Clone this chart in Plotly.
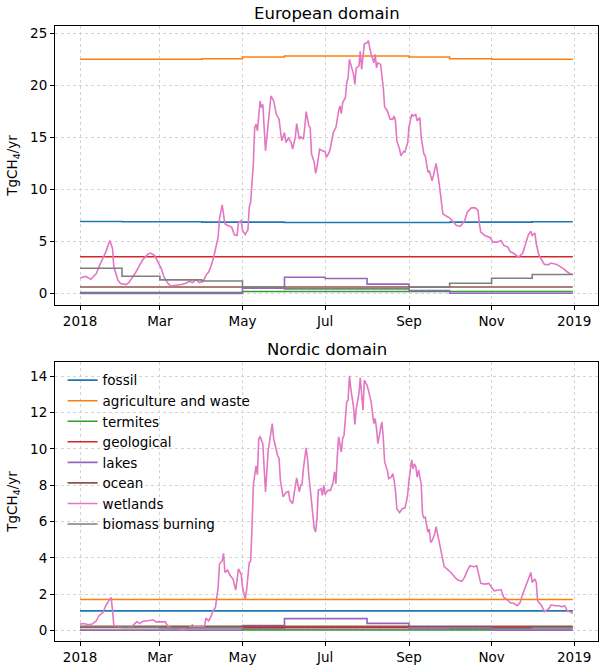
import pandas as pd
import plotly.graph_objects as go
from plotly.subplots import make_subplots

start = pd.Timestamp("2018-01-01")
months = pd.date_range(start, periods=12, freq="MS")
year_end = pd.Timestamp("2018-12-31")

names = ["fossil", "agriculture and waste", "termites", "geological",
         "lakes", "ocean", "wetlands", "biomass burning"]
colors = ["#1f77b4", "#ff7f0e", "#2ca02c", "#d62728",
          "#9467bd", "#8c564b", "#e377c2", "#7f7f7f"]

tick_dates = ["2018-01-01", "2018-03-01", "2018-05-01", "2018-07-01",
              "2018-09-01", "2018-11-01", "2019-01-01"]
tick_text = ["2018", "Mar", "May", "Jul", "Sep", "Nov", "2019"]

# monthly fluxes, European domain (TgCH4/yr)
eu_fossil = [6.92, 6.89, 6.89, 6.86, 6.86, 6.83, 6.83, 6.83, 6.83, 6.86, 6.86, 6.89]
eu_agri = [22.50, 22.50, 22.50, 22.56, 22.72, 22.82, 22.82, 22.82, 22.72, 22.56, 22.50, 22.50]
eu_termites = [0.10, 0.10, 0.10, 0.10, 0.20, 0.20, 0.20, 0.20, 0.20, 0.20, 0.20, 0.20]
eu_geo = [3.53, 3.53, 3.53, 3.53, 3.53, 3.53, 3.53, 3.53, 3.53, 3.53, 3.53, 3.53]
eu_lakes = [0.02, 0.02, 0.02, 0.02, 0.51, 1.57, 1.44, 0.90, 0.29, 0.03, 0.03, 0.03]
eu_ocean = [0.63, 0.63, 0.63, 0.63, 0.63, 0.63, 0.63, 0.63, 0.63, 0.63, 0.63, 0.63]
eu_biomass = [2.43, 1.66, 1.31, 1.21, 0.61, 0.45, 0.45, 0.45, 0.61, 0.99, 1.47, 1.83]

# wetlands, European domain: day of year, value
eu_wet_day = [0, 4, 8, 12, 15, 19, 22, 24, 25, 28, 30, 34, 36, 39, 41, 44, 46, 50, 52, 55,
              57, 60, 62, 65, 67, 71, 75, 78, 81, 83, 86, 88, 91, 93, 95, 97, 99, 102, 103, 105,
              107, 109, 112, 114, 116, 117, 119, 120, 122, 124, 125, 126, 128, 129, 130, 131, 133, 134, 135, 137,
              139, 141, 143, 145, 147, 148, 149, 151, 152, 154, 156, 157, 159, 160, 162, 163, 165, 166, 167, 169,
              170, 171, 173, 174, 175, 177, 179, 181, 182, 184, 185, 187, 188, 189, 191, 192, 193, 194, 196, 197,
              198, 199, 200, 202, 203, 204, 206, 207, 208, 209, 210, 212, 213, 214, 215, 217, 218, 219, 220, 222,
              223, 224, 225, 227, 229, 231, 232, 233, 234, 236, 237, 239, 240, 242, 243, 245, 246, 248, 249, 251,
              252, 254, 255, 257, 258, 260, 261, 263, 265, 267, 268, 271, 273, 276, 278, 281, 284, 286, 289, 292,
              294, 295, 296, 299, 303, 305, 308, 311, 313, 316, 318, 320, 322, 324, 327, 329, 331, 333, 334, 336,
              337, 339, 341, 343, 346, 348, 352, 354, 357, 360, 362, 364]
eu_wet_val = [1.50, 1.66, 1.37, 1.91, 2.87, 3.98, 5.10, 4.30, 2.55, 1.27, 0.96, 0.86, 1.05, 1.59, 2.00, 2.71, 3.19, 3.76, 3.89, 3.66,
              3.19, 2.39, 1.59, 0.96, 0.73, 0.80, 0.86, 0.99, 1.18, 1.05, 1.34, 1.05, 1.18, 1.75, 2.07, 2.71, 3.66, 5.42, 7.18, 8.52,
              6.70, 6.54, 6.38, 5.64, 5.58, 6.80, 7.00, 6.06, 5.67, 6.12, 8.29, 8.77, 12.44, 15.94, 16.27, 15.63, 18.50, 17.86, 18.18, 13.71,
              16.27, 18.98, 18.50, 17.22, 16.75, 15.63, 14.67, 15.46, 14.51, 14.93, 14.51, 13.88, 14.99, 16.33, 14.83, 15.05, 14.83, 15.94, 17.47, 16.10,
              15.94, 13.40, 12.60, 11.54, 12.11, 13.88, 13.71, 13.65, 13.07, 13.55, 14.03, 15.46, 15.69, 15.94, 17.54, 18.02, 17.28, 18.34, 18.81, 20.25,
              20.73, 22.49, 22.01, 21.05, 20.10, 21.68, 21.85, 23.28, 21.53, 22.64, 23.98, 24.08, 24.30, 23.60, 22.97, 22.16, 22.97, 21.68, 22.16, 22.01,
              21.05, 19.77, 17.92, 17.54, 16.75, 16.75, 17.06, 16.58, 14.67, 13.88, 13.23, 13.65, 13.60, 14.50, 16.00, 17.22, 17.06, 17.20, 16.58, 16.90,
              14.99, 13.40, 13.23, 11.64, 11.80, 10.84, 11.32, 12.50, 10.84, 8.93, 7.66, 7.40, 7.27, 6.85, 6.54, 6.47, 6.95, 7.81, 8.23, 8.23,
              7.97, 6.70, 5.90, 5.58, 5.36, 4.94, 4.94, 5.10, 4.62, 4.46, 3.98, 3.89, 3.67, 3.50, 3.89, 4.78, 5.58, 5.99, 5.58, 5.80,
              4.78, 3.67, 3.25, 2.80, 2.77, 2.93, 2.80, 2.64, 2.39, 2.07, 1.91, 1.85]

# monthly fluxes, Nordic domain (TgCH4/yr)
no_fossil = [1.09, 1.09, 1.09, 1.09, 1.09, 1.09, 1.09, 1.09, 1.09, 1.09, 1.09, 1.09]
no_agri = [1.71, 1.71, 1.71, 1.71, 1.71, 1.71, 1.71, 1.71, 1.71, 1.71, 1.71, 1.71]
no_termites = [0.02, 0.02, 0.02, 0.02, 0.04, 0.04, 0.04, 0.04, 0.04, 0.04, 0.02, 0.02]
no_geo = [0.17, 0.17, 0.17, 0.17, 0.17, 0.17, 0.17, 0.17, 0.17, 0.17, 0.17, 0.17]
no_lakes = [0.02, 0.02, 0.02, 0.02, 0.28, 0.66, 0.66, 0.40, 0.15, 0.15, 0.03, 0.03]
no_ocean = [0.24, 0.24, 0.24, 0.24, 0.24, 0.24, 0.24, 0.24, 0.24, 0.24, 0.24, 0.24]
no_biomass = [0.20, 0.18, 0.15, 0.15, 0.10, 0.08, 0.08, 0.08, 0.08, 0.10, 0.12, 0.15]

# wetlands, Nordic domain: day of year, value
no_wet_day = [0, 3, 6, 9, 12, 14, 17, 19, 22, 23, 24, 25, 29, 34, 38, 40, 42, 44, 46, 50,
              54, 56, 60, 63, 65, 68, 72, 76, 80, 83, 84, 88, 92, 93, 95, 97, 98, 100, 102, 103,
              105, 106, 107, 109, 111, 113, 115, 117, 119, 120, 122, 123, 125, 126, 127, 128, 130, 131, 132, 133,
              135, 137, 139, 141, 142, 143, 144, 146, 147, 148, 150, 152, 154, 155, 157, 159, 160, 162, 163, 164,
              165, 167, 168, 169, 170, 171, 173, 174, 175, 176, 178, 179, 180, 181, 183, 185, 187, 188, 189, 190,
              191, 193, 194, 195, 197, 198, 199, 200, 202, 203, 204, 205, 206, 207, 208, 209, 210, 212, 213, 214,
              215, 217, 218, 219, 220, 222, 223, 224, 225, 227, 228, 230, 231, 232, 233, 234, 236, 238, 240, 241,
              242, 243, 244, 245, 246, 247, 248, 249, 250, 252, 253, 254, 255, 257, 258, 259, 260, 262, 263, 264,
              266, 268, 269, 272, 274, 277, 279, 282, 284, 286, 288, 291, 293, 295, 296, 299, 302, 304, 306, 308,
              311, 313, 315, 318, 320, 323, 325, 327, 330, 332, 333, 334, 336, 337, 338, 340, 341, 343, 346, 348,
              351, 354, 356, 358, 360, 362, 364]
no_wet_val = [0.36, 0.39, 0.32, 0.36, 0.54, 0.82, 1.00, 1.37, 1.73, 1.82, 1.09, 0.26, 0.21, 0.17, 0.21, 0.36, 0.50, 0.39, 0.50, 0.54,
              0.60, 0.48, 0.50, 0.48, 0.21, 0.17, 0.08, 0.04, 0.13, 0.32, 0.21, 0.21, 0.26, 0.69, 0.54, 0.82, 1.05, 1.27, 2.37, 3.66,
              3.85, 4.25, 3.20, 3.33, 3.02, 2.84, 2.23, 3.40, 3.10, 2.40, 1.75, 2.21, 3.74, 3.81, 5.61, 8.00, 9.06, 8.58, 10.57, 10.66,
              10.29, 7.63, 9.92, 10.75, 11.39, 10.57, 10.20, 9.61, 9.50, 8.27, 7.36, 7.59, 7.66, 7.17, 6.99, 7.81, 8.40, 7.63, 8.00, 8.08,
              8.91, 10.05, 9.47, 8.55, 7.81, 6.71, 5.61, 5.43, 6.16, 7.72, 7.81, 7.44, 8.00, 7.48, 7.72, 7.72, 8.18, 8.73, 8.08, 9.56,
              10.66, 9.84, 10.57, 10.75, 12.59, 12.68, 14.02, 13.32, 12.31, 11.34, 12.22, 12.59, 13.05, 13.91, 12.95, 12.13, 13.78, 13.50, 13.23, 12.95,
              12.59, 11.39, 11.67, 11.12, 10.29, 11.12, 11.49, 10.57, 9.28, 8.82, 8.36, 8.45, 8.64, 8.27, 7.72, 6.71, 6.49, 6.71, 6.76, 7.06,
              7.50, 8.30, 8.90, 9.39, 8.90, 9.17, 9.03, 8.44, 8.84, 8.07, 6.42, 6.20, 6.24, 5.41, 5.59, 4.85, 4.94, 5.32, 5.72, 5.32,
              4.58, 3.94, 3.52, 3.33, 3.20, 2.93, 2.78, 2.71, 2.93, 3.29, 3.57, 3.52, 3.57, 2.93, 2.60, 2.56, 2.60, 2.37, 2.19, 2.22,
              2.26, 1.82, 1.74, 1.52, 1.52, 1.37, 1.54, 2.01, 2.65, 3.11, 3.20, 2.65, 2.84, 2.65, 1.64, 1.46, 1.37, 1.05, 1.18, 1.42,
              1.37, 1.37, 1.31, 1.37, 1.09, 1.04, 0.94]

domains = [
    ("European domain", [eu_fossil, eu_agri, eu_termites, eu_geo, eu_lakes, eu_ocean,
                         (eu_wet_day, eu_wet_val), eu_biomass], [-1.1, 25.7], 5),
    ("Nordic domain", [no_fossil, no_agri, no_termites, no_geo, no_lakes, no_ocean,
                       (no_wet_day, no_wet_val), no_biomass], [-0.57, 14.78], 2),
]

fig = make_subplots(rows=2, cols=1, vertical_spacing=0.0927,
                    subplot_titles=[d[0] for d in domains])

for row, (title, series, yrange, ystep) in enumerate(domains, start=1):
    for name, color, s in zip(names, colors, series):
        if isinstance(s, tuple):
            days, vals = s
            x = start + pd.to_timedelta(days, unit="D")
            y = vals
            shape = "linear"
        else:
            x = list(months) + [year_end]
            y = list(s) + [s[-1]]
            shape = "hv"
        fig.add_trace(go.Scatter(x=x, y=y, mode="lines", name=name,
                                 line=dict(color=color, width=1.6, shape=shape),
                                 showlegend=(row == 2)),
                      row=row, col=1)
    fig.update_yaxes(range=yrange, dtick=ystep, tick0=0, row=row, col=1)

fig.update_xaxes(
    range=[start - pd.Timedelta(days=18.5), start + pd.Timedelta(days=382.6)],
    tickvals=tick_dates, ticktext=tick_text,
)
fig.update_xaxes(showline=True, linecolor="black", linewidth=1, mirror=True,
                 ticks="outside", ticklen=4, tickcolor="black",
                 showgrid=True, gridcolor="#d4d4d4", griddash="dot", gridwidth=0.8,
                 zeroline=False, tickfont=dict(size=13.5, color="black"))
fig.update_yaxes(showline=True, linecolor="black", linewidth=1, mirror=True,
                 ticks="outside", ticklen=4, tickcolor="black",
                 showgrid=True, gridcolor="#d4d4d4", griddash="dot", gridwidth=0.8,
                 zeroline=False, tickfont=dict(size=13.5, color="black"),
                 title=dict(text="TgCH<sub>4</sub>/yr", font=dict(size=13.5, color="black"),
                            standoff=9))

for ann in fig.layout.annotations:
    ann.font = dict(size=16.5, color="black")
    ann.yshift = 1

fig.update_layout(
    width=606, height=672,
    margin=dict(l=55, r=8, t=26, b=31),
    plot_bgcolor="white", paper_bgcolor="white",
    font=dict(family="DejaVu Sans", color="black"),
    legend=dict(x=0.014, y=0.449, xanchor="left", yanchor="top",
                bgcolor="rgba(0,0,0,0)", font=dict(size=13.5),
                itemwidth=30, tracegroupgap=0),
)

# drop the page's default body margin so the figure sits at the top-left corner
fig.write_html("out.html", config={"displayModeBar": False},
               post_script="document.body.style.margin = '0px';")
